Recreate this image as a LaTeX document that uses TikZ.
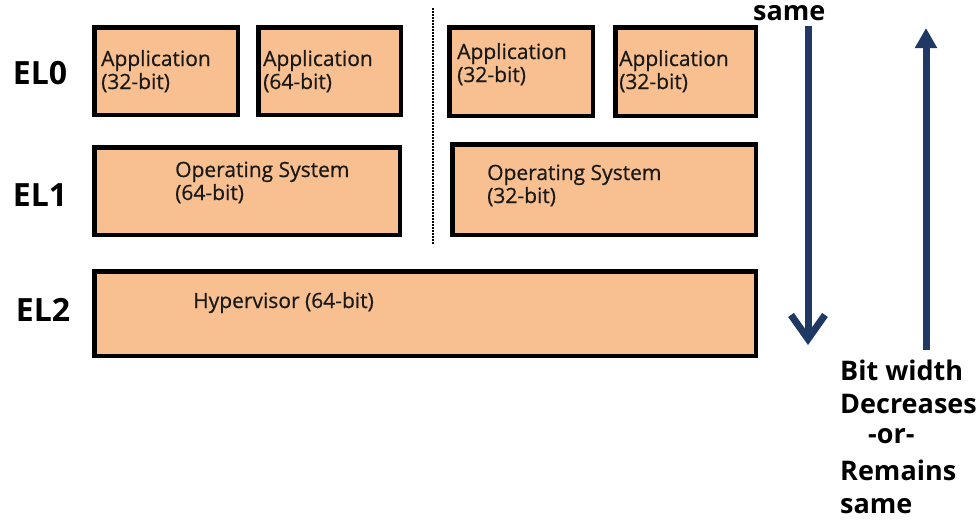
\documentclass[tikz,border=0pt]{standalone}
\usepackage{fontspec}
\setmainfont{Open Sans}
\newfontfamily\boxfont{Open Sans}[FakeBold=0.6]
\usetikzlibrary{arrows.meta}
\definecolor{peach}{RGB}{248,192,144}
\definecolor{navy}{RGB}{31,56,100}
\tikzset{
  box/.style={draw=black, fill=peach, line width=4.5pt, rectangle, inner sep=0pt},
  txt/.style={anchor=base west, inner sep=0pt, font=\boxfont\fontsize{21}{23}\selectfont, text=black!90},
  lvl/.style={inner sep=0pt, font=\bfseries\fontsize{32}{34}\selectfont},
  side/.style={anchor=base west, inner sep=0pt, font=\bfseries\fontsize{27}{29}\selectfont},
  bar/.style={draw=navy, line width=7pt},
}
\begin{document}
\begin{tikzpicture}[x=1pt, y=-1pt]
\useasboundingbox (0,0) rectangle (979,525);

% exception level labels
\node[lvl] (el0) at (40,73) {EL0};
\node[lvl] (el1) at (40,195) {EL1};
\node[lvl] (el2) at (43,310) {EL2};

% EL0 applications
\node[box, minimum width=143.5pt, minimum height=87.5pt] (app1) at (166,71) {};
\node[box, minimum width=142.5pt, minimum height=87.5pt] (app2) at (329.5,71) {};
\node[box, minimum width=143.5pt, minimum height=88.5pt] (app3) at (521,71.5) {};
\node[box, minimum width=140.5pt, minimum height=88.5pt] (app4) at (685.5,71.5) {};

\node[txt] (app1a) at (101,66) {Application};
\node[txt] (app1b) at (101,89) {(32-bit)};
\node[txt] (app2a) at (263,66) {Application};
\node[txt] (app2b) at (263,89) {(64-bit)};
\node[txt] (app3a) at (457,59) {Application};
\node[txt] (app3b) at (457,82) {(32-bit)};
\node[txt] (app4a) at (619,66) {Application};
\node[txt] (app4b) at (619,89) {(32-bit)};

% EL1 operating systems
\node[box, minimum width=305.5pt, minimum height=87.5pt] (os1) at (247,191) {};
\node[box, minimum width=303.5pt, minimum height=90.5pt] (os2) at (604,189.5) {};
\node[txt] (os1a) at (175,177) {Operating System};
\node[txt] (os1b) at (175,200) {(64-bit)};
\node[txt] (os2a) at (487,180) {Operating System};
\node[txt] (os2b) at (487,203) {(32-bit)};

% EL2 hypervisor
\node[box, minimum width=661.5pt, minimum height=84.5pt] (hyp) at (425,313.5) {};
\node[txt] (hypt) at (193,308) {Hypervisor (64-bit)};

% separator between the two guest stacks
\coordinate (septop) at (433,8);
\coordinate (sepbot) at (433,244);
\draw[line width=2.5pt, dash pattern=on 1.6pt off 1.4pt] (septop) -- (sepbot);

% bit-width arrows
\coordinate (dtop) at (808,26);
\coordinate (dbot) at (808,345);
\draw[bar, -{Straight Barb[length=24pt, width=34pt, line width=7pt]}] (dtop) -- (dbot);
\coordinate (ubot) at (926,350);
\coordinate (utop) at (926,28);
\draw[bar, -{Triangle[length=20pt, width=21pt]}, fill=navy] (ubot) -- (utop);

% side captions
\node[side] (topsame) at (753,20) {same};
\node[side] (bw1) at (840,380) {Bit width};
\node[side] (bw2) at (840,413) {Decreases};
\node[side] (bw3) at (868,443) {-or-};
\node[side] (bw4) at (840,480) {Remains};
\node[side] (bw5) at (840,513) {same};
\end{tikzpicture}
\end{document}
